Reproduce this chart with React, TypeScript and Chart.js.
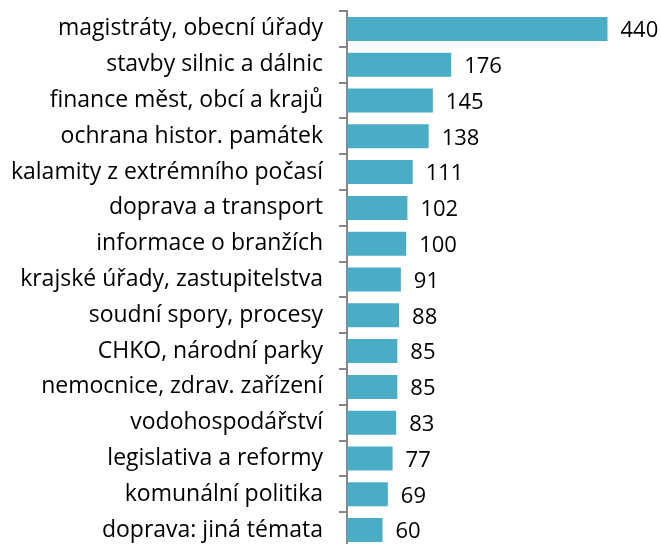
import React, { useEffect, useRef } from "react";
import { Chart, registerables } from "chart.js";

Chart.register(...registerables);

const categories = [
  "magistráty, obecní úřady",
  "stavby silnic a dálnic",
  "finance měst, obcí a krajů",
  "ochrana histor. památek",
  "kalamity z extrémního počasí",
  "doprava a transport",
  "informace o branžích",
  "krajské úřady, zastupitelstva",
  "soudní spory, procesy",
  "CHKO, národní parky",
  "nemocnice, zdrav. zařízení",
  "vodohospodářství",
  "legislativa a reformy",
  "komunální politika",
  "doprava: jiná témata",
];

const values = [440, 176, 145, 138, 111, 102, 100, 91, 88, 85, 85, 83, 77, 69, 60];

const FONT = "'Open Sans', 'Noto Sans', sans-serif";

const valueLabels = {
  id: "valueLabels",
  afterDatasetsDraw(chart: any) {
    const ctx = chart.ctx;
    const meta = chart.getDatasetMeta(0);
    ctx.save();
    ctx.font = `22px ${FONT}`;
    ctx.fillStyle = "#000000";
    ctx.textAlign = "left";
    ctx.textBaseline = "middle";
    meta.data.forEach((bar: any, i: number) => {
      ctx.fillText(String(values[i]), bar.x + 13, bar.y + 2);
    });
    ctx.restore();
  },
};

export default function App() {
  const ref = useRef<HTMLCanvasElement | null>(null);
  useEffect(() => {
    document.body.style.margin = "0";
    document.body.style.overflow = "hidden";
    const chart = new Chart(ref.current!, {
      type: "bar",
      data: {
        labels: categories,
        datasets: [
          {
            data: values,
            backgroundColor: "#4BACC6",
            borderWidth: 0,
            categoryPercentage: 1,
            barPercentage: 0.67,
          },
        ],
      },
      options: {
        indexAxis: "y",
        animation: false,
        responsive: false,
        maintainAspectRatio: false,
        layout: { padding: { top: 11, bottom: 4, left: 0, right: 18 } },
        plugins: { legend: { display: false }, tooltip: { enabled: false } },
        scales: {
          x: {
            display: false,
            min: 0,
            max: 500,
          },
          y: {
            afterFit(scale: any) {
              scale.width = 347;
              scale.paddingTop = 0;
              scale.paddingBottom = 0;
            },
            grid: {
              offset: true,
              drawOnChartArea: false,
              drawTicks: true,
              tickLength: 8,
              color: "#868686",
              lineWidth: 2,
            },
            border: { display: true, color: "#868686", width: 2 },
            ticks: {
              color: "#000000",
              padding: 16,
              font: { family: FONT, size: 23 },
              autoSkip: false,
            },
          },
        },
      },
      plugins: [valueLabels],
    });
    return () => chart.destroy();
  }, []);
  return (
    <div style={{ position: "fixed", left: 0, top: 0, width: 661, height: 552 }}>
      <canvas ref={ref} width={661} height={552} style={{ width: 661, height: 552 }} />
    </div>
  );
}
